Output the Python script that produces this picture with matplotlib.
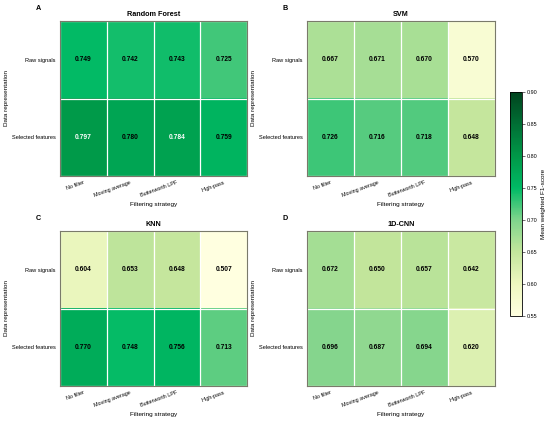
import numpy as np
import matplotlib
matplotlib.use("Agg")
import matplotlib.pyplot as plt
from matplotlib.colors import LinearSegmentedColormap

plt.rcParams['font.family'] = ['Liberation Sans', 'DejaVu Sans']

filters = ["No filter", "Moving average", "Butterworth LPF", "High-pass"]
reps = ["Raw signals", "Selected features"]
models = ["Random Forest", "SVM", "KNN", "1D-CNN"]
letters = ["A", "B", "C", "D"]

rf = [[0.749, 0.742, 0.743, 0.725], [0.797, 0.780, 0.784, 0.759]]
svm = [[0.667, 0.671, 0.670, 0.570], [0.726, 0.716, 0.718, 0.648]]
knn = [[0.604, 0.653, 0.648, 0.507], [0.770, 0.748, 0.756, 0.713]]
cnn = [[0.672, 0.650, 0.657, 0.642], [0.696, 0.687, 0.694, 0.620]]
all_vals = [rf, svm, knn, cnn]

vmin, vmax = 0.55, 0.90
cmap = LinearSegmentedColormap.from_list(
    "custom",
    [(0.0, "#ffffe0"), (1/7, "#eef8c0"), (2/7, "#c3e69c"), (3/7, "#7fd48c"),
     (4/7, "#00ba65"), (5/7, "#009848"), (6/7, "#006f35"), (1.0, "#00441e")])

fig = plt.figure(figsize=(5.5, 4.24), dpi=100)
W, H = 550, 424
boxes = [(60, 21, 247, 176), (307, 21, 495, 176), (60, 231, 247, 386), (307, 231, 495, 386)]

im = None
for k, (x0, y0, x1, y1) in enumerate(boxes):
    ax = fig.add_axes([x0 / W, 1 - y1 / H, (x1 - x0) / W, (y1 - y0) / H])
    data = np.array(all_vals[k])
    im = ax.imshow(data, cmap=cmap, vmin=vmin, vmax=vmax, aspect='auto')
    for i in range(data.shape[0]):
        for j in range(data.shape[1]):
            v = data[i, j]
            ax.text(j, i, f"{v:.3f}", ha='center', va='center', fontsize=4.8,
                    fontweight='bold', color='white' if v > 0.782 else 'black')
    ax.set_xticks(np.arange(len(filters)))
    ax.set_xticklabels(filters, rotation=20, ha='right', fontsize=3.9,
                       rotation_mode='anchor')
    ax.set_yticks(np.arange(len(reps)))
    ax.set_yticklabels(reps, fontsize=4.1)
    ax.set_xticks(np.arange(-0.5, len(filters), 1), minor=True)
    ax.set_yticks(np.arange(-0.5, len(reps), 1), minor=True)
    ax.grid(which='minor', color='white', linewidth=0.9)
    ax.tick_params(which='minor', length=0)
    ax.tick_params(which='major', length=0, pad=3)
    for s in ax.spines.values():
        s.set_color('#7a7a6a')
        s.set_linewidth(0.8)
    ax.set_xlabel("Filtering strategy", fontsize=4.6, labelpad=3)
    ax.set_ylabel("Data representation", fontsize=4.6, labelpad=2)
    ax.set_title(models[k], fontsize=5.2, fontweight='bold', pad=3.5)
    fig.text((x0 - 22) / W, 1 - (y0 - 13) / H, letters[k], fontsize=5.2,
             fontweight='bold', ha='center', va='center')

cax = fig.add_axes([510 / W, 1 - 316 / H, 12 / W, (316 - 92) / H])
cb = fig.colorbar(im, cax=cax)
cb.set_ticks([0.55, 0.60, 0.65, 0.70, 0.75, 0.80, 0.85, 0.90])
cb.ax.tick_params(labelsize=3.9, length=2, width=0.4, pad=1.2)
cb.set_label("Mean weighted F1-score", fontsize=4.6, labelpad=3)
cb.outline.set_linewidth(0.6)

fig.savefig("out.png", dpi=100)
